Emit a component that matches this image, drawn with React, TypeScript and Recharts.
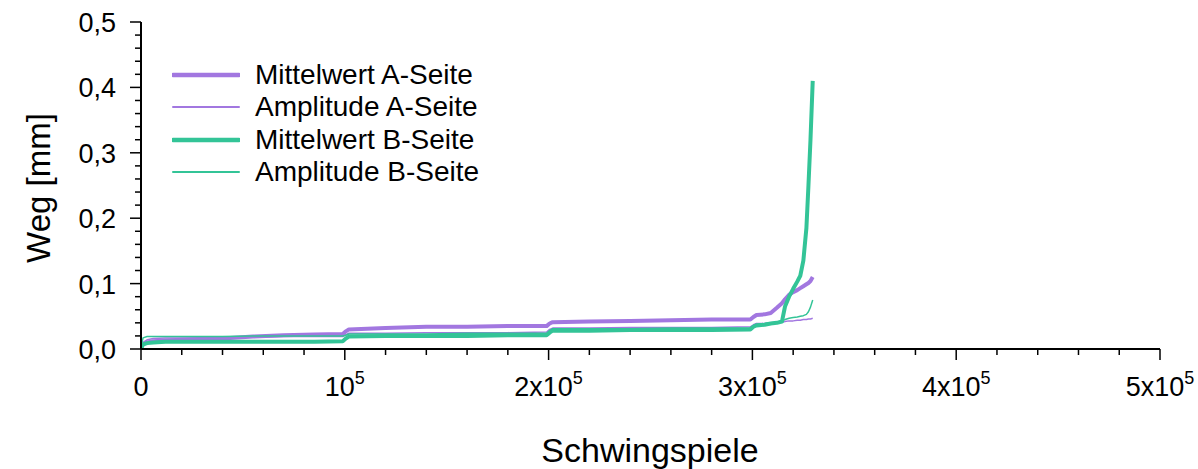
import React from 'react';
import { LineChart, Line, XAxis, YAxis, Legend } from 'recharts';

const PURPLE = '#A277E0';
const GREEN = '#33C497';
const FONT = '"Liberation Sans", Arial, sans-serif';

const cycles = [0, 1000, 3000, 6000, 12000, 25000, 40000, 55000, 70000, 85000, 99000, 100500, 102000, 120000, 140000, 160000, 180000, 199000, 200500, 202000, 220000, 240000, 260000, 280000, 299000, 300500, 302000, 306000, 309000, 312000, 314500, 316000, 318000, 320000, 322000, 323500, 325000, 326500, 327500, 328500, 329600];

const mittelA = [0.004, 0.007, 0.010, 0.012, 0.013, 0.015, 0.016, 0.019, 0.021, 0.022, 0.023, 0.027, 0.030, 0.032, 0.034, 0.034, 0.035, 0.035, 0.039, 0.041, 0.042, 0.043, 0.044, 0.045, 0.045, 0.049, 0.052, 0.053, 0.055, 0.063, 0.070, 0.076, 0.083, 0.087, 0.090, 0.093, 0.096, 0.099, 0.101, 0.104, 0.110];

const amplA = [0.004, 0.010, 0.014, 0.016, 0.017, 0.017, 0.018, 0.018, 0.019, 0.019, 0.019, 0.022, 0.024, 0.024, 0.025, 0.025, 0.025, 0.026, 0.030, 0.032, 0.032, 0.033, 0.033, 0.033, 0.034, 0.037, 0.039, 0.039, 0.040, 0.040, 0.041, 0.042, 0.043, 0.043, 0.044, 0.044, 0.045, 0.045, 0.046, 0.046, 0.047];

const mittelB = [0.000, 0.007, 0.009, 0.010, 0.011, 0.011, 0.011, 0.011, 0.011, 0.011, 0.012, 0.016, 0.019, 0.020, 0.020, 0.020, 0.021, 0.021, 0.025, 0.028, 0.028, 0.029, 0.029, 0.029, 0.030, 0.034, 0.036, 0.037, 0.039, 0.040, 0.042, 0.065, 0.080, 0.092, 0.103, 0.112, 0.135, 0.185, 0.250, 0.320, 0.410];

const amplB = [0.002, 0.017, 0.019, 0.019, 0.019, 0.019, 0.019, 0.020, 0.020, 0.020, 0.020, 0.021, 0.023, 0.023, 0.023, 0.024, 0.024, 0.024, 0.028, 0.031, 0.031, 0.031, 0.032, 0.032, 0.032, 0.036, 0.038, 0.039, 0.040, 0.041, 0.043, 0.045, 0.047, 0.048, 0.049, 0.050, 0.051, 0.053, 0.057, 0.064, 0.075];

const seriesNames = ['Mittelwert A-Seite', 'Amplitude A-Seite', 'Mittelwert B-Seite', 'Amplitude B-Seite'];
const seriesKeys = ['mA', 'aA', 'mB', 'aB'];
const seriesColors = [PURPLE, PURPLE, GREEN, GREEN];
const seriesWidths = [4, 1.5, 4, 1.5];

const yMajorTicks = [0, 0.1, 0.2, 0.3, 0.4, 0.5];
const yMajorLabels = ['0,0', '0,1', '0,2', '0,3', '0,4', '0,5'];
const xMajorTicks = [0, 100000, 200000, 300000, 400000, 500000];
const xMajorBase = ['0', '10', '2x10', '3x10', '4x10', '5x10'];
const xMajorExp = ['', '5', '5', '5', '5', '5'];

const data = cycles.map((c, i) => ({
  x: c,
  mA: mittelA[i],
  aA: amplA[i],
  mB: mittelB[i],
  aB: amplB[i],
}));

const yTicks = Array.from({ length: 26 }, (_, i) => Math.round(i * 2) / 100);
const xTicks = Array.from({ length: 26 }, (_, i) => i * 20000);

const YTick = (props: any) => {
  const { x, y, payload } = props;
  const v = payload.value;
  const idx = yMajorTicks.findIndex((t) => Math.abs(t - v) < 1e-9);
  const major = idx >= 0;
  return (
    <g>
      <line x1={x} x2={x - (major ? 11 : 6)} y1={y} y2={y} stroke="#000" strokeWidth={1.5} />
      {major && (
        <text x={x - 25} y={y + 10} textAnchor="end" fontSize={27} fontFamily={FONT} fill="#000">
          {yMajorLabels[idx]}
        </text>
      )}
    </g>
  );
};

const XTick = (props: any) => {
  const { x, y, payload } = props;
  const v = payload.value;
  const idx = xMajorTicks.indexOf(v);
  const major = idx >= 0;
  return (
    <g>
      <line x1={x} x2={x} y1={y} y2={y + (major ? 11 : 6)} stroke="#000" strokeWidth={1.5} />
      {major && (
        <text x={x} y={y + 47} textAnchor="middle" fontSize={27} fontFamily={FONT} fill="#000">
          <tspan>{xMajorBase[idx]}</tspan>
          {xMajorExp[idx] && (
            <tspan dy={-12} fontSize={18}>
              {xMajorExp[idx]}
            </tspan>
          )}
        </text>
      )}
    </g>
  );
};

const LegendContent = () => (
  <div style={{ fontFamily: FONT, fontSize: 28, color: '#000' }}>
    {seriesNames.map((n, i) => (
      <div key={n} style={{ display: 'flex', alignItems: 'center', height: 32.3 }}>
        <svg width={68} height={10} style={{ display: 'block' }}>
          <line x1={1} x2={67} y1={5} y2={5} stroke={seriesColors[i]} strokeWidth={seriesWidths[i] + 0.5} strokeLinecap="round" />
        </svg>
        <span style={{ marginLeft: 15, lineHeight: '32px', whiteSpace: 'nowrap' }}>{n}</span>
      </div>
    ))}
  </div>
);

export default function App() {
  return (
    <div style={{ position: 'absolute', left: 0, top: 0, width: 1198, height: 469, background: '#fff' }}>
      <style>{`body{margin:0;}`}</style>
      <LineChart width={1198} height={469} data={data} margin={{ top: 22, right: 38, bottom: 0, left: 0 }}>
        <XAxis
          dataKey="x"
          type="number"
          domain={[0, 500000]}
          ticks={xTicks}
          interval={0}
          tick={<XTick />}
          tickLine={false}
          tickSize={0}
          tickMargin={0}
          height={120}
          axisLine={{ stroke: '#000', strokeWidth: 2 }}
          allowDataOverflow
          label={{
            content: () => (
              <text x={650} y={462} textAnchor="middle" fontSize={34} fontFamily={FONT} fill="#000">
                Schwingspiele
              </text>
            ),
          }}
        />
        <XAxis
          xAxisId="top"
          orientation="top"
          dataKey="x"
          type="number"
          domain={[0, 500000]}
          tick={false}
          tickLine={false}
          height={0}
          axisLine={{ stroke: '#000', strokeWidth: 2 }}
        />
        <YAxis
          type="number"
          domain={[0, 0.5]}
          ticks={yTicks}
          interval={0}
          tick={<YTick />}
          tickLine={false}
          tickSize={0}
          tickMargin={0}
          width={141}
          axisLine={{ stroke: '#000', strokeWidth: 2 }}
          allowDataOverflow
          label={{
            content: () => (
              <text
                x={38}
                y={188}
                transform="rotate(-90 38 188)"
                textAnchor="middle"
                dominantBaseline="central"
                fontSize={33}
                fontFamily={FONT}
                fill="#000"
              >
                Weg [mm]
              </text>
            ),
          }}
        />
        <YAxis
          yAxisId="right"
          orientation="right"
          type="number"
          domain={[0, 0.5]}
          tick={false}
          tickLine={false}
          width={0}
          axisLine={{ stroke: '#000', strokeWidth: 2 }}
        />
        <Legend
          layout="horizontal"
          verticalAlign="middle"
          align="center"
          content={<LegendContent />}
          wrapperStyle={{ position: 'absolute', left: 172, top: 59, width: 'auto', height: 'auto' }}
        />
        {seriesKeys.map((k, i) => (
          <Line
            key={k}
            dataKey={k}
            name={seriesNames[i]}
            type="linear"
            stroke={seriesColors[i]}
            strokeWidth={seriesWidths[i]}
            dot={false}
            activeDot={false}
            isAnimationActive={false}
            strokeLinejoin="round"
          />
        ))}
      </LineChart>
    </div>
  );
}
